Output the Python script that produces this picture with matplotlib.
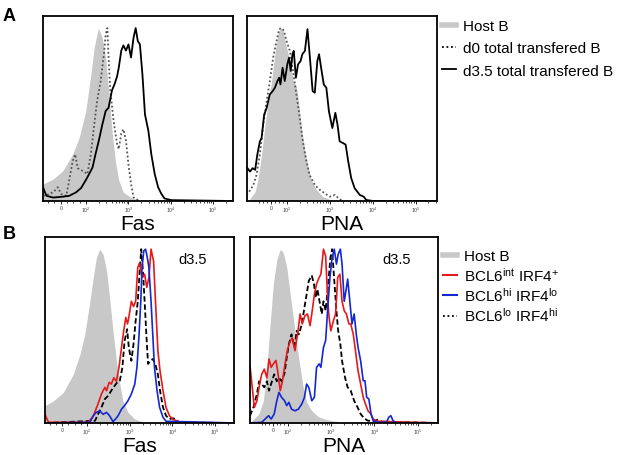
import numpy as np
import matplotlib
matplotlib.use('Agg')
import matplotlib.pyplot as plt
from matplotlib.lines import Line2D

plt.rcParams['font.family'] = ['Liberation Sans', 'DejaVu Sans']
plt.rcParams['mathtext.fontset'] = 'custom'
plt.rcParams['mathtext.rm'] = 'Liberation Sans'
plt.rcParams['mathtext.it'] = 'Liberation Sans'

# x values are in display decades (2 = 10^2, 3 = 10^3 ...), y in % of max

# ---- panel A, Fas ----
fas_a_host_x = [0.98, 1.22, 1.45, 1.68, 1.84, 1.99, 2.11, 2.19, 2.29, 2.38, 2.46, 2.53, 2.61, 2.69, 2.77, 2.88, 3.08, 3.23]
fas_a_host_y = [9.8, 12.7, 17.5, 27, 37, 52, 73, 89, 100, 94.5, 83, 64, 41, 23, 12, 5, 1.7, 0.6]
fas_a_d0_x = [0.98, 1.14, 1.26, 1.33, 1.41, 1.53, 1.60, 1.68, 1.74, 1.80, 1.91, 2.03, 2.11, 2.19, 2.26, 2.34, 2.42, 2.46,
              2.50, 2.53, 2.57, 2.65, 2.73, 2.77, 2.83, 2.88, 2.94, 3.00, 3.06, 3.12, 3.23]
fas_a_d0_y = [3, 4, 6, 8, 4, 3, 12, 23, 27, 19, 17.5, 15.6, 27, 44, 58, 69, 85, 96,
              100, 83, 64, 46, 33, 30, 39, 41.5, 35, 21, 10, 2, 0.5]
fas_a_d35_x = [0.98, 1.06, 1.22, 1.45, 1.60, 1.76, 1.88, 1.99, 2.07, 2.15, 2.22, 2.30, 2.38, 2.46, 2.53, 2.61, 2.67, 2.73,
               2.77, 2.83, 2.88, 2.94, 3.00, 3.06, 3.12, 3.17, 3.22, 3.27, 3.33, 3.39, 3.47, 3.54, 3.62, 3.70, 3.78,
               3.85, 4.01, 5.47]
fas_a_d35_y = [8, 3, 2, 2.5, 3, 5, 7.5, 12, 15.6, 19.4, 27, 35, 44, 52, 54, 64, 67.5, 72,
               77, 87, 90, 87, 90.6, 83, 94.5, 100, 92.5, 90.6, 73, 50, 40.6, 27, 15.6, 8, 4,
               1.5, 0.5, 0]

# ---- panel A, PNA ----
pna_a_host_x = [1.12, 1.26, 1.33, 1.41, 1.49, 1.57, 1.64, 1.72, 1.80, 1.85, 1.91, 1.99, 2.07, 2.15, 2.22, 2.26, 2.34,
                2.42, 2.50, 2.57, 2.69, 2.84, 3.00, 3.16]
pna_a_host_y = [0.6, 5.4, 13, 27, 44, 58, 69, 85, 97.5, 100, 98.5, 89, 81, 69, 66.5, 60, 42,
                29, 19, 12, 6.4, 2.5, 1, 0.2]
pna_a_d0_x = [1.12, 1.22, 1.29, 1.37, 1.45, 1.53, 1.60, 1.68, 1.76, 1.82, 1.88, 1.93, 1.99, 2.07, 2.15, 2.21, 2.29,
              2.36, 2.44, 2.53, 2.65, 2.77, 2.88, 3.00, 3.12, 3.19, 3.27]
pna_a_d0_y = [5.4, 9.3, 15, 27, 44, 58, 69, 83, 92.6, 99.4, 100, 98.5, 92.6, 86.8, 74, 63.6, 50,
              36.4, 24.8, 15, 9.3, 6.4, 4.5, 2.5, 3.5, 1.9, 0.4]
pna_a_d35_x = [1.08, 1.14, 1.20, 1.26, 1.31, 1.37, 1.41, 1.47, 1.53, 1.60, 1.67, 1.72, 1.78, 1.82, 1.85, 1.90, 1.95,
               2.01, 2.05, 2.09, 2.13, 2.16, 2.21, 2.26, 2.32, 2.36, 2.42, 2.48, 2.53, 2.60, 2.65, 2.71, 2.75,
               2.81, 2.86, 2.92, 2.98, 3.06, 3.13, 3.18, 3.23, 3.31, 3.37, 3.43, 3.50, 3.58, 3.70, 3.79, 3.85,
               4.01, 5.5]
pna_a_d35_y = [19, 17, 19, 18, 26.7, 34.5, 36.4, 50, 53.9, 61.6, 63.6, 65.5, 69.4, 71.3, 67.4, 77.1, 69.4,
               79, 82.9, 75.2, 84.9, 86.8, 71.3, 79, 81, 84.9, 86.8, 99.4, 84.9, 63.6, 62.6, 81, 84.9,
               75.2, 67.4, 65.5, 51.9, 42.2, 51, 44.2, 34.5, 33.5, 32.6, 22.9, 13.2, 7.4, 3.5, 2.5, 0.6,
               0, 0]

# ---- panel B, Fas ----
fas_b_host_x = [1.02, 1.22, 1.45, 1.68, 1.84, 1.95, 2.07, 2.15, 2.22, 2.30, 2.38, 2.46, 2.53, 2.61, 2.69, 2.77, 2.84,
                2.96, 3.12, 3.31]
fas_b_host_y = [10, 12.8, 17.6, 28, 39.7, 51, 70, 84, 95, 100, 97, 87.5, 72, 53, 35.8, 22.4, 12.8,
                6.1, 2.3, 0.6]
fas_b_int_x = [1.02, 1.10, 2.03, 2.15, 2.26, 2.34, 2.42, 2.46, 2.52, 2.57, 2.63, 2.69, 2.75, 2.81, 2.86, 2.91, 2.95,
               2.98, 3.04, 3.09, 3.14, 3.19, 3.23, 3.29, 3.35, 3.40, 3.45, 3.50, 3.56, 3.60, 3.66, 3.71, 3.78,
               3.85, 3.93, 4.01, 4.09, 4.16, 5.44]
fas_b_int_y = [5, 0.4, 0.4, 4, 11, 16.7, 20.5, 18.6, 23.4, 22.4, 26, 24, 32, 43.5, 53, 60.7, 57,
               60.7, 70, 67, 70, 89.5, 92, 83.7, 85.6, 78, 83.7, 100, 93, 72, 41.6, 30, 18.6,
               9, 4.2, 2.1, 1.3, 0.3, 0]
fas_b_lo_x = [1.02, 2.19, 2.26, 2.34, 2.42, 2.50, 2.57, 2.65, 2.71, 2.77, 2.83, 2.88, 2.94, 2.98, 3.04, 3.09, 3.14,
              3.19, 3.23, 3.27, 3.31, 3.35, 3.39, 3.43, 3.48, 3.54, 3.60, 3.66, 3.71, 3.78, 3.85, 3.93, 4.01,
              4.07, 4.16, 5.44]
fas_b_lo_y = [0, 1.3, 5, 9, 13.8, 15.7, 18.6, 21.5, 23.4, 24.3, 32, 47, 54, 43.5, 35.8, 45.4, 58.8,
              70, 85.6, 100, 87.5, 70, 51, 34, 35.8, 36.8, 34, 28, 18.6, 9, 4.2, 2.3, 2.7,
              2.3, 0.3, 0]
fas_b_hi_x = [1.02, 2.07, 2.15, 2.22, 2.30, 2.38, 2.46, 2.53, 2.61, 2.67, 2.73, 2.81, 2.88, 2.96, 3.04, 3.12, 3.17,
              3.22, 3.26, 3.29, 3.33, 3.37, 3.40, 3.45, 3.50, 3.54, 3.58, 3.64, 3.70, 3.78, 3.85, 5.44]
fas_b_hi_y = [0, 0.4, 4.2, 6.1, 7, 5, 6.1, 4.2, 0.8, 2.3, 4.2, 8, 10, 12.8, 16.7, 22.4, 32,
              51, 70, 89.5, 99, 100, 97, 89.5, 70, 51, 32, 18.6, 9, 3.3, 1, 0]

# ---- panel B, PNA ----
pna_b_host_x = [1.16, 1.32, 1.43, 1.51, 1.58, 1.66, 1.74, 1.82, 1.89, 1.97, 2.05, 2.12, 2.20, 2.28, 2.35, 2.43, 2.55,
                2.70, 2.93, 3.16]
pna_b_host_y = [1.3, 5, 12.8, 32, 55, 80, 94, 100, 98, 89.5, 74, 60.7, 45.4, 32, 20.5, 12, 7,
                3.6, 1.7, 0.8]
pna_b_int_x = [1.12, 1.18, 1.22, 1.28, 1.33, 1.39, 1.45, 1.51, 1.56, 1.61, 1.66, 1.72, 1.76, 1.82, 1.87, 1.93, 1.99,
               2.05, 2.10, 2.16, 2.22, 2.28, 2.33, 2.39, 2.45, 2.51, 2.56, 2.61, 2.66, 2.72, 2.76, 2.82, 2.87,
               2.92, 2.95, 2.99, 3.05, 3.10, 3.15, 3.20, 3.25, 3.30, 3.35, 3.41, 3.45, 3.51, 3.56, 3.62, 3.68,
               3.74, 3.79, 3.85, 3.92, 3.97, 4.05, 5.47]
pna_b_int_y = [33, 18.6, 9, 12.8, 20.5, 28, 31, 26, 36.8, 32, 34, 36, 30, 18.6, 24, 34, 42.5,
               47, 49, 41.6, 51, 62.7, 57, 61.7, 62.7, 56, 64.6, 74, 80, 83.7, 85.6, 100, 96,
               70, 60.7, 53, 58.8, 62.7, 83.7, 85.6, 70, 64.6, 62.7, 57, 57, 51, 41.6, 30, 22.4,
               14.8, 11, 7, 5.2, 2.3, 1, 0]
pna_b_lo_x = [1.12, 1.20, 1.28, 1.33, 1.39, 1.45, 1.51, 1.56, 1.62, 1.68, 1.74, 1.79, 1.85, 1.92, 1.97, 2.02, 2.08,
              2.15, 2.20, 2.25, 2.32, 2.38, 2.43, 2.48, 2.55, 2.60, 2.64, 2.68, 2.74, 2.78, 2.82, 2.87, 2.93,
              2.98, 3.02, 3.07, 3.12, 3.16, 3.21, 3.25, 3.32, 3.38, 3.45, 3.53, 3.61, 3.68, 3.76, 3.85, 4.01,
              4.08, 4.16, 5.47]
pna_b_lo_y = [4.2, 9, 16.7, 24, 22.4, 20.5, 24, 18.6, 23.4, 28, 24, 26, 24, 28.7, 37.7, 45.4, 51,
              43.5, 53, 51, 57, 66.5, 74, 81.8, 84.7, 80, 72, 77, 68.4, 62.7, 70, 64.6, 80,
              95, 100, 81.8, 64.6, 53, 45.4, 35.8, 26, 20.5, 18.6, 12.8, 9, 5.2, 2.7, 1.3, 1.3,
              1.9, 0.8, 0]
pna_b_hi_x = [1.12, 1.39, 1.47, 1.55, 1.61, 1.68, 1.74, 1.79, 1.85, 1.92, 1.97, 2.02, 2.08, 2.16, 2.24, 2.32, 2.38,
              2.43, 2.48, 2.55, 2.61, 2.66, 2.72, 2.76, 2.82, 2.87, 2.92, 2.97, 3.02, 3.07, 3.12, 3.16, 3.21,
              3.25, 3.30, 3.34, 3.38, 3.43, 3.48, 3.53, 3.58, 3.62, 3.68, 3.74, 3.78, 3.82, 3.87, 3.92, 3.97,
              4.08, 4.28, 4.33, 4.38, 4.43, 4.51, 5.47]
pna_b_hi_y = [0, 0.4, 2.3, 4.2, 2.3, 5.2, 12.8, 17.6, 14.8, 12.8, 10, 11.9, 8, 7, 8, 11, 14.8,
              22.4, 20.5, 12.8, 14.8, 32, 34, 32, 43.5, 47.4, 66.5, 83.7, 95, 100, 91.4, 97, 100,
              91.4, 70, 76, 82.8, 70, 57, 62.7, 51, 43.5, 35.8, 24.3, 24.3, 14.8, 13.8, 5.2, 1.3,
              0.4, 0.4, 3.3, 4.2, 1.3, 0, 0]

GREY = '#c8c8c8'
RED = '#e41a1c'
BLUE = '#1428d2'


def setup_axis(ax, zero, xmin, xmax, label):
    ax.set_xlim(xmin, xmax)
    ax.set_ylim(0, 107)
    ax.set_yticks([])
    ax.set_xticks([zero, 2, 3, 4, 5])
    ax.set_xticklabels(['0', '10$^{2}$', '10$^{3}$', '10$^{4}$', '10$^{5}$'], fontsize=3.8, color='#444444')
    minor = [n + np.log10(k) for n in (2, 3, 4, 5) for k in range(2, 10) if n + np.log10(k) < xmax]
    step = (2 - zero) / 4
    minor += [zero + step * i for i in range(-3, 4) if i != 0 and zero + step * i > xmin]
    ax.set_xticks(minor, minor=True)
    ax.tick_params(axis='x', which='major', length=2.5, width=0.6, pad=0.5, direction='out')
    ax.tick_params(axis='x', which='minor', length=1.3, width=0.5, direction='out')
    for s in ax.spines.values():
        s.set_linewidth(1.3)
    ax.set_xlabel(label, fontsize=15)
    ax.xaxis.set_label_coords(0.5, -0.068)


fig = plt.figure(figsize=(6.17, 4.56), dpi=100)

# panel A
ax1 = fig.add_axes([43 / 617, 1 - 202 / 456, 190 / 617, 185 / 456])
ax1.fill_between(fas_a_host_x, fas_a_host_y, color=GREY, lw=0)
ax1.plot(fas_a_d0_x, fas_a_d0_y, color='#555555', lw=1.3, ls=(0, (1, 1.3)))
ax1.plot(fas_a_d35_x, fas_a_d35_y, color='black', lw=1.3)
setup_axis(ax1, 1.40, 0.98, 5.47, 'Fas')

ax2 = fig.add_axes([247 / 617, 1 - 202 / 456, 190 / 617, 185 / 456])
ax2.fill_between(pna_a_host_x, pna_a_host_y, color=GREY, lw=0)
ax2.plot(pna_a_d0_x, pna_a_d0_y, color='#555555', lw=1.3, ls=(0, (1, 1.3)))
ax2.plot(pna_a_d35_x, pna_a_d35_y, color='black', lw=1.3)
setup_axis(ax2, 1.63, 1.07, 5.5, 'PNA')

# panel B
ax3 = fig.add_axes([45 / 617, 1 - 424 / 456, 189 / 617, 186 / 456])
ax3.fill_between(fas_b_host_x, fas_b_host_y, color=GREY, lw=0)
ax3.plot(fas_b_lo_x, fas_b_lo_y, color='black', lw=1.3, ls=(0, (3, 1.5)))
ax3.plot(fas_b_int_x, fas_b_int_y, color=RED, lw=1.2)
ax3.plot(fas_b_hi_x, fas_b_hi_y, color=BLUE, lw=1.2)
setup_axis(ax3, 1.42, 1.02, 5.44, 'Fas')
ax3.text(0.78, 0.88, 'd3.5', transform=ax3.transAxes, ha='center', va='center', fontsize=10.5)

ax4 = fig.add_axes([250 / 617, 1 - 424 / 456, 188 / 617, 186 / 456])
ax4.fill_between(pna_b_host_x, pna_b_host_y, color=GREY, lw=0)
ax4.plot(pna_b_lo_x, pna_b_lo_y, color='black', lw=1.3, ls=(0, (3, 1.5)))
ax4.plot(pna_b_int_x, pna_b_int_y, color=RED, lw=1.2)
ax4.plot(pna_b_hi_x, pna_b_hi_y, color=BLUE, lw=1.2)
setup_axis(ax4, 1.65, 1.12, 5.47, 'PNA')
ax4.text(0.78, 0.88, 'd3.5', transform=ax4.transAxes, ha='center', va='center', fontsize=10.5)

# panel letters
fig.text(3 / 617, 1 - 8 / 456, 'A', fontsize=13, fontweight='bold', va='top', ha='left')
fig.text(3 / 617, 1 - 226 / 456, 'B', fontsize=13, fontweight='bold', va='top', ha='left')

# legends
h_a = [Line2D([0], [0], color=GREY, lw=4),
       Line2D([0], [0], color='black', lw=1.3, ls=(0, (1, 1.5))),
       Line2D([0], [0], color='black', lw=1.3)]
lab_a = ['Host B', 'd0 total transfered B', 'd3.5 total transfered B']
fig.legend(h_a, lab_a, loc='upper left', bbox_to_anchor=(442 / 617, 1 - 20 / 456), frameon=False,
           fontsize=11, handlelength=0.9, handletextpad=0.5, labelspacing=0.55, borderpad=0, borderaxespad=0)

h_b = [Line2D([0], [0], color=GREY, lw=4),
       Line2D([0], [0], color=RED, lw=1.5),
       Line2D([0], [0], color=BLUE, lw=1.5),
       Line2D([0], [0], color='black', lw=1.3, ls=(0, (1, 1.5)))]
lab_b = ['Host B', r'BCL6$^{\mathregular{int}}$ IRF4$^{+}$', r'BCL6$^{\mathregular{hi}}$ IRF4$^{\mathregular{lo}}$',
         r'BCL6$^{\mathregular{lo}}$ IRF4$^{\mathregular{hi}}$']
fig.legend(h_b, lab_b, loc='upper left', bbox_to_anchor=(443 / 617, 1 - 250 / 456), frameon=False,
           fontsize=11, handlelength=0.9, handletextpad=0.5, labelspacing=0.16, borderpad=0, borderaxespad=0)

fig.savefig('out.png', dpi=100)
